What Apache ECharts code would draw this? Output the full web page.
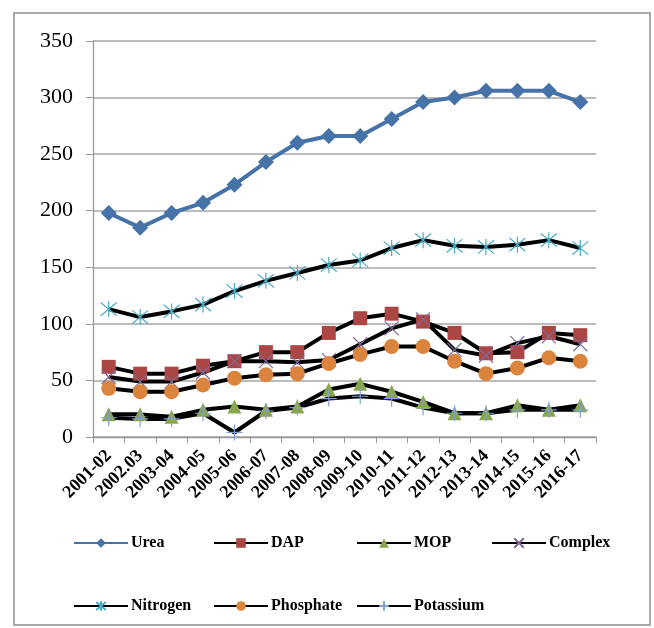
<!DOCTYPE html>
<html><head><meta charset="utf-8">
<script src="https://cdn.jsdelivr.net/npm/echarts@6/dist/echarts.min.js"></script>
<style>html,body{margin:0;padding:0;background:#fff}#c{width:654px;height:628px}</style>
</head><body><div id="c"></div>
<script>
const years = ['2001-02','2002.03','2003-04','2004-05','2005-06','2006-07','2007-08','2008-09','2009-10','2010-11','2011-12','2012-13','2013-14','2014-15','2015-16','2016-17'];
const urea = [198, 185, 198, 207, 223, 243, 260, 266, 266, 281, 296, 300, 306, 306, 306, 296];
const dap = [62, 56, 56, 63, 67, 75, 75, 92, 105, 109, 102, 92, 74, 75, 92, 90];
const mop = [20, 20, 18, 24, 27, 24, 27, 42, 47, 40, 31, 21, 21, 28, 24, 28];
const complexF = [53, 49, 49, 57, 67, 67, 66, 68, 82, 96, 104, 77, 72, 83, 89, 82];
const nitrogen = [113, 106, 111, 117, 129, 138, 145, 152, 156, 167, 174, 169, 168, 170, 174, 167];
const phosphate = [43, 40, 40, 46, 52, 55, 56, 65, 73, 80, 80, 67, 56, 61, 70, 67];
const potassium = [17, 16, 16, 21, 4, 23, 26, 34, 36, 34, 26, 21, 21, 24, 24, 24];
const yTicks = [0, 50, 100, 150, 200, 250, 300, 350];

const FONT = '"Liberation Serif", "Times New Roman", serif';
const chart = echarts.init(document.getElementById('c'));
const X_PATH = 'path://M0,0L10,10M10,0L0,10';
const AST_PATH = 'path://M0,0L10,10M10,0L0,10M5,-1L5,11';
const PLUS_PATH = 'path://M0,5L10,5M5,0L5,10';

function s(name, data, lineColor, lineWidth, symbol, symColor, size, stroke) {
  const o = {
    name, type: 'line', data, symbol, symbolSize: size,
    lineStyle: { color: lineColor, width: lineWidth },
    itemStyle: { color: symColor },
    emphasis: { disabled: true },
    animation: false
  };
  if (stroke) {
    o.itemStyle = { color: 'rgba(0,0,0,0)', borderColor: symColor, borderWidth: 1.2 };
  }
  return o;
}

const series = [
  s('Urea', urea, '#4572a7', 4, 'diamond', '#4572a7', 16),
  s('DAP', dap, '#000', 4, 'rect', '#aa4643', 14),
  s('MOP', mop, '#000', 4, 'triangle', '#89a54e', 14),
  s('Complex', complexF, '#000', 4, X_PATH, '#80699b', 14, true),
  s('Nitrogen', nitrogen, '#000', 4, AST_PATH, '#4bacc6', 16, true),
  s('Phosphate', phosphate, '#000', 4, 'circle', '#db843d', 15),
  s('Potassium', potassium, '#000', 4, PLUS_PATH, '#7f9fd6', 16, true)
];

const legendPos = [
  ['Urea', 68, 530], ['DAP', 208, 530], ['MOP', 351, 530], ['Complex', 486, 530],
  ['Nitrogen', 68, 593], ['Phosphate', 208, 593], ['Potassium', 351, 593]
];
const legends = legendPos.map(([n, l, t]) => ({
  data: [n], left: l, top: t, itemWidth: 54, itemHeight: 12, itemGap: 0,
  selectedMode: false,
  textStyle: { fontFamily: FONT, fontWeight: 'bold', fontSize: 16, color: '#000', padding: [0, 0, 0, -2] }
}));

chart.setOption({
  animation: false,
  backgroundColor: '#fff',
  graphic: [{
    type: 'rect', shape: { x: 14, y: 13, width: 636, height: 612 },
    style: { fill: 'none', stroke: '#8c8c8c', lineWidth: 1.5 }, z: -1
  }],
  legend: legends,
  grid: { left: 93, right: 58, top: 41, bottom: 191, containLabel: false },
  xAxis: {
    type: 'category', data: years, boundaryGap: true,
    axisLine: { lineStyle: { color: '#9a9a9a', width: 1.3 } },
    axisTick: { show: true, length: 6, interval: 0, lineStyle: { color: '#9a9a9a' } },
    axisLabel: { interval: 0, rotate: 45, fontFamily: FONT, fontWeight: 'bold', fontSize: 18, color: '#000', margin: 16 }
  },
  yAxis: {
    type: 'value', min: 0, max: 350, interval: 50,
    axisLine: { show: true, lineStyle: { color: '#9a9a9a', width: 1.3 } },
    axisTick: { show: true, length: 7, lineStyle: { color: '#9a9a9a' } },
    splitLine: { lineStyle: { color: '#a6a6a6', width: 1.5 } },
    axisLabel: { fontFamily: FONT, fontSize: 22, color: '#000', margin: 20,
      formatter: v => yTicks.includes(v) ? String(v) : '' }
  },
  series
});
</script></body></html>
